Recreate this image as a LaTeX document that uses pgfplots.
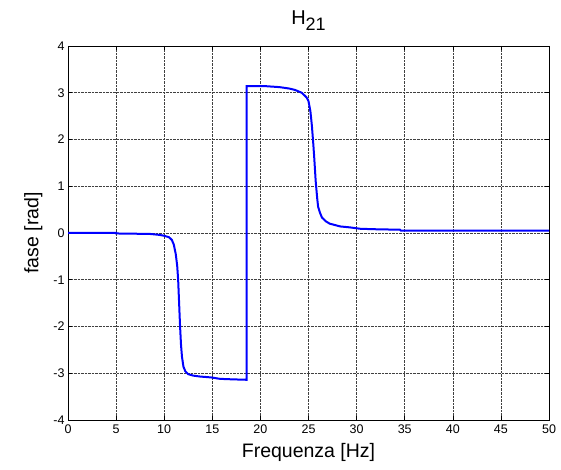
\documentclass[border=0pt]{standalone}
\usepackage{pgfplots}
\pgfplotsset{compat=1.18}
\usepackage{fontspec}
\setmainfont{Liberation Sans}
\begin{document}
\begin{tikzpicture}
\begin{axis}[
  scale only axis,
  width=481bp, height=374bp,
  xmin=0, xmax=50, ymin=-4, ymax=4,
  xtick={0,5,...,50}, ytick={-4,-3,...,4},
  grid=major,
  grid style={black!75, densely dotted, line width=0.6pt},
  axis line style={black, line width=0.9pt},
  tick align=inside,
  major tick length=4bp,
  tick style={black, line width=0.5pt},
  /pgf/number format/assume math mode=true,
  ticklabel style={font=\fontsize{12.5bp}{13bp}\selectfont},
  xticklabel style={yshift=-1bp},
  xlabel={Frequenza [Hz]},
  ylabel={fase [rad]},
  label style={font=\fontsize{19.5bp}{21bp}\selectfont},
  xlabel style={yshift=-3bp},
  ylabel style={yshift=4bp},
  title={H\raisebox{-0.6ex}{\fontsize{18bp}{19bp}\selectfont 21}},
  title style={font=\fontsize{20bp}{21bp}\selectfont, yshift=6bp},
]
\addplot[blue, line width=2bp] coordinates {
(0,0) (5,0) (5,-0.01) (8.5,-0.02) (9.5,-0.04) (10.0,-0.06) (10.5,-0.09)
(10.8,-0.15) (11.0,-0.25) (11.2,-0.45) (11.35,-0.7) (11.45,-1.0) (11.55,-1.5)
(11.65,-2.0) (11.75,-2.4) (11.85,-2.65) (12.0,-2.86) (12.2,-2.96) (12.5,-3.02)
(13.0,-3.05) (13.7,-3.07) (14.9,-3.09) (15.8,-3.12) (17.0,-3.13) (18.57,-3.14)
(18.57,3.14) (20.6,3.14) (22.0,3.12) (23.0,3.09) (23.6,3.06) (24.3,3.00)
(24.8,2.90) (25.0,2.82) (25.2,2.6) (25.35,2.3) (25.5,1.9) (25.6,1.6)
(25.75,1.1) (25.9,0.75) (26.0,0.56) (26.2,0.43) (26.4,0.33) (26.8,0.25)
(27.2,0.20) (28.3,0.14) (29.3,0.12) (30.4,0.09) (32,0.08) (34.5,0.07)
(34.6,0.05) (40,0.05) (50,0.05)
};
\end{axis}
\pgfresetboundingbox
\path ([shift={(-68bp,-50bp)}]current axis.south west) rectangle ([shift={(12bp,46bp)}]current axis.north east);
\end{tikzpicture}
\end{document}
